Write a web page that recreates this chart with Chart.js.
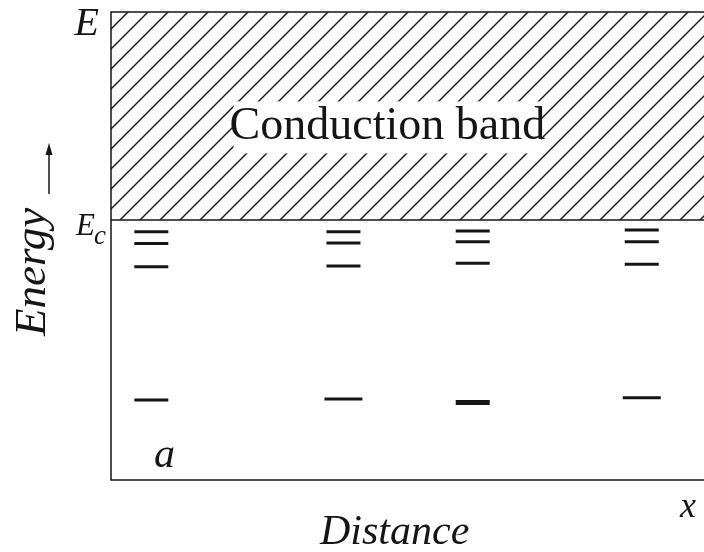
<!DOCTYPE html>
<html>
<head>
<meta charset="utf-8">
<script src="https://cdn.jsdelivr.net/npm/chart.js@4/dist/chart.umd.min.js"></script>
<style>
  html, body { margin: 0; padding: 0; background: #fff; }
  #wrap { width: 704px; height: 552px; position: relative; }
</style>
</head>
<body>
<div id="wrap"><canvas id="c" width="704" height="552"></canvas></div>
<script>
// Impurity sites along the crystal (distance, arbitrary units)
const siteX = [0.68, 3.92, 6.10, 8.95];
// Shallow levels just below the conduction band edge, one value per site
const shallow1 = [4.775, 4.775, 4.79, 4.81];
const shallow2 = [4.55, 4.56, 4.58, 4.58];
const shallow3 = [4.10, 4.115, 4.17, 4.15];
// Deep level, one value per site
const deepLevel = [1.54, 1.56, 1.49, 1.58];
// Band edge and top of the energy axis
const EC = 5;
const E_TOP = 9;
const yMarkValues = [E_TOP, EC];
const yMarkLabels = ['E', 'E_c'];
const xRange = [0, 10];

const INK = '#151515';
const SERIF = '"Liberation Serif", "DejaVu Serif", serif';

// Diagonal hatching used to fill the conduction band
function makeHatch() {
  const s = 20;
  const c = document.createElement('canvas');
  c.width = s; c.height = s;
  const g = c.getContext('2d');
  g.strokeStyle = INK;
  g.lineWidth = 1.4;
  const seg = (x0, y0, x1, y1) => { g.beginPath(); g.moveTo(x0, y0); g.lineTo(x1, y1); g.stroke(); };
  seg(-2, s + 2, s + 2, -2);
  seg(-2, 2, 2, -2);
  seg(s - 2, s + 2, s + 2, s - 2);
  return g.createPattern(c, 'repeat');
}

const levelPoints = (ys) => siteX.map((x, i) => ({ x, y: ys[i] }));

// Frame, band caption and axis labels
const annotate = {
  id: 'annotate',
  afterDatasetsDraw(chart) {
    const { ctx, chartArea: a, scales: { x, y } } = chart;
    ctx.save();

    // frame: top, left and bottom edges
    ctx.strokeStyle = INK;
    ctx.lineWidth = 1.5;
    ctx.beginPath();
    ctx.moveTo(a.right, a.top);
    ctx.lineTo(a.left, a.top);
    ctx.lineTo(a.left, a.bottom);
    ctx.lineTo(a.right, a.bottom);
    ctx.stroke();

    // caption inside the hatched band, on a white backing
    const capX = x.getPixelForValue(4.66);
    const capY = y.getPixelForValue(6.55);
    ctx.font = '46px ' + SERIF;
    const w = ctx.measureText('Conduction band').width;
    ctx.fillStyle = '#fff';
    ctx.fillRect(capX - w / 2 + 4, capY - 38, w - 8, 52);
    ctx.fillStyle = INK;
    ctx.textAlign = 'center';
    ctx.textBaseline = 'alphabetic';
    ctx.fillText('Conduction band', capX, capY);

    // energy marks on the left edge
    ctx.textAlign = 'right';
    yMarkValues.forEach((v, i) => {
      const py = y.getPixelForValue(v);
      const [main, sub] = yMarkLabels[i].split('_');
      if (sub) {
        ctx.font = 'italic 31px ' + SERIF;
        ctx.fillText(main, a.left - 16, py + 15);
        ctx.font = 'italic 27px ' + SERIF;
        ctx.fillText(sub, a.left - 5, py + 24);
      } else {
        ctx.font = 'italic 40px ' + SERIF;
        ctx.fillText(main, a.left - 12, py + 23);
      }
    });

    // site label and axis end label
    ctx.textAlign = 'left';
    ctx.font = 'italic 42px ' + SERIF;
    ctx.fillText('a', a.left + 43, a.bottom - 13);
    ctx.font = 'italic 36px ' + SERIF;
    ctx.fillText('x', a.right - 24, a.bottom + 37);

    // horizontal axis title
    ctx.font = 'italic 42px ' + SERIF;
    ctx.fillText('Distance', 320, a.bottom + 64);

    // vertical axis title with arrow
    ctx.save();
    ctx.translate(45, 336);
    ctx.rotate(-Math.PI / 2);
    ctx.font = 'italic 45px ' + SERIF;
    ctx.fillText('Energy', 0, 0);
    ctx.restore();
    ctx.lineWidth = 1.5;
    ctx.beginPath();
    ctx.moveTo(49, 194);
    ctx.lineTo(49, 150);
    ctx.stroke();
    ctx.beginPath();
    ctx.moveTo(49, 143);
    ctx.lineTo(45.5, 155);
    ctx.lineTo(52.5, 155);
    ctx.closePath();
    ctx.fill();

    ctx.restore();
  }
};

new Chart(document.getElementById('c'), {
  type: 'scatter',
  data: {
    datasets: [
      {
        type: 'line',
        label: 'Conduction band',
        data: [{ x: xRange[0], y: EC }, { x: xRange[1], y: EC }],
        fill: 'end',
        backgroundColor: makeHatch(),
        borderColor: INK,
        borderWidth: 1.6,
        pointRadius: 0
      },
      {
        label: 'Shallow levels',
        data: [...levelPoints(shallow1), ...levelPoints(shallow2), ...levelPoints(shallow3)],
        pointStyle: 'line',
        pointRadius: 17,
        borderColor: INK,
        borderWidth: 3
      },
      {
        label: 'Deep level',
        data: levelPoints(deepLevel),
        pointStyle: 'line',
        pointRadius: [17, 19, 17, 19],
        borderColor: INK,
        borderWidth: [3, 3, 5, 3]
      }
    ]
  },
  options: {
    responsive: false,
    animation: false,
    events: [],
    layout: { autoPadding: false, padding: { left: 111, top: 12, right: 0, bottom: 72 } },
    scales: {
      x: { type: 'linear', min: xRange[0], max: xRange[1], display: false },
      y: { type: 'linear', min: 0, max: E_TOP, display: false }
    },
    plugins: { legend: { display: false }, tooltip: { enabled: false } }
  },
  plugins: [annotate]
});
</script>
</body>
</html>
